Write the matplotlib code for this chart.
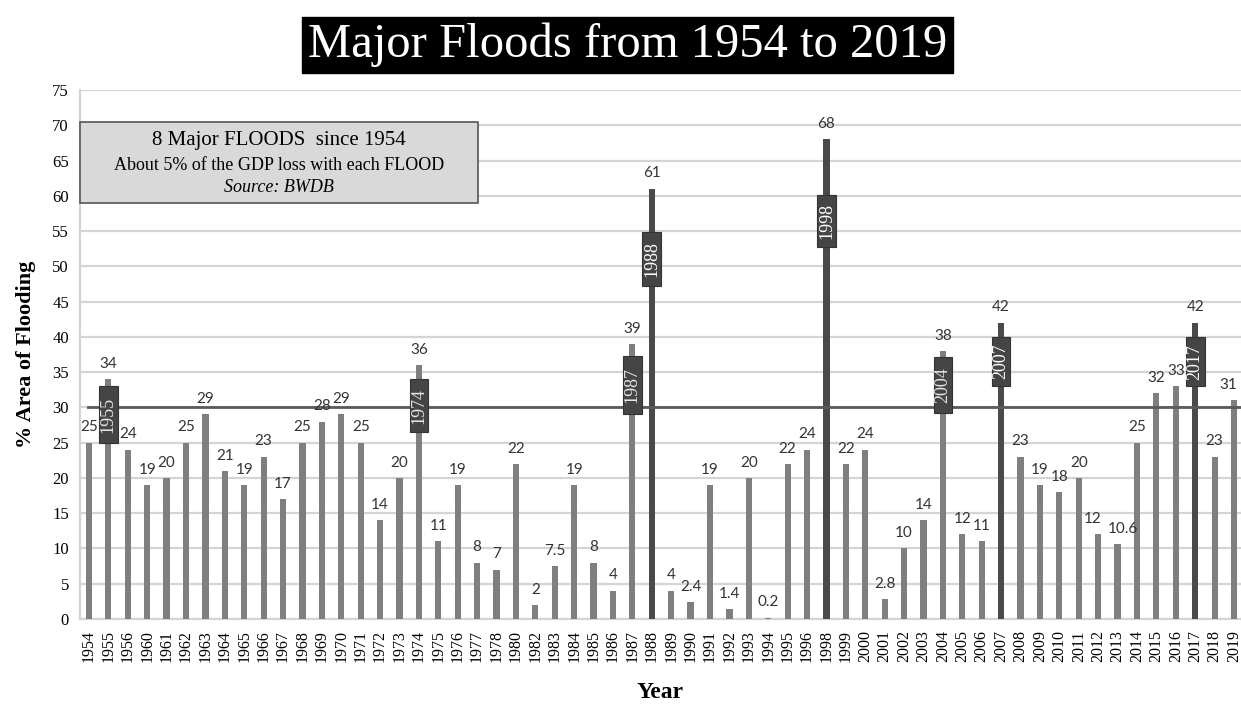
import matplotlib
matplotlib.use('Agg')
import matplotlib.pyplot as plt
from matplotlib.patches import Rectangle

# Flood data (BWDB)
years = ['1954', '1955', '1956', '1960', '1961', '1962', '1963', '1964', '1965', '1966',
         '1967', '1968', '1969', '1970', '1971', '1972', '1973', '1974', '1975', '1976',
         '1977', '1978', '1980', '1982', '1983', '1984', '1985', '1986', '1987', '1988',
         '1989', '1990', '1991', '1992', '1993', '1994', '1995', '1996', '1998', '1999',
         '2000', '2001', '2002', '2003', '2004', '2005', '2006', '2007', '2008', '2009',
         '2010', '2011', '2012', '2013', '2014', '2015', '2016', '2017', '2018', '2019']
area = [25, 34, 24, 19, 20, 25, 29, 21, 19, 23,
        17, 25, 28, 29, 25, 14, 20, 36, 11, 19,
        8, 7, 22, 2, 7.5, 19, 8, 4, 39, 61,
        4, 2.4, 19, 1.4, 20, 0.2, 22, 24, 68, 22,
        24, 2.8, 10, 14, 38, 12, 11, 42, 23, 19,
        18, 20, 12, 10.6, 25, 32, 33, 42, 23, 31]

# years tagged with a dark label box, and the biggest floods drawn darker
tagged = ['1955', '1974', '1987', '1988', '1998', '2004', '2007', '2017']
tag_span = [(25, 33), (26.5, 34), (29, 37.3), (47.2, 54.9), (52.8, 60.1),
            (29.2, 37.2), (33, 40), (33, 40)]
major = ['1988', '1998', '2007', '2017']
threshold = 30

# a few labels sit off-centre in the original
label_shift = {'2012': -4, '2013': 4, '2019': -4}

serif = 'Liberation Serif'
bar_color = '#7f7f7f'
dark_color = '#4a4a4a'
grid_color = '#d4d4d4'

fig = plt.figure(figsize=(12.41, 7.04), dpi=100)
ax = fig.add_axes([0.0645, 0.1207, 0.9355, 0.7514])

x = list(range(len(years)))
colors = [dark_color if y in major else bar_color for y in years]
ax.bar(x, area, width=0.32, color=colors, zorder=3)

ax.set_xlim(-0.46, 59.36)
ax.set_ylim(0, 75)
ax.set_yticks(range(0, 80, 5))
ax.set_xticks(x)
ax.set_xticklabels(years, rotation=90, fontfamily=serif, fontsize=11.5)
for lbl in ax.get_yticklabels():
    lbl.set_fontfamily(serif)
    lbl.set_fontsize(12)
ax.tick_params(length=0, colors='black')
ax.tick_params(axis='x', pad=8)
ax.tick_params(axis='y', pad=8)

ax.grid(axis='y', color=grid_color, linewidth=1.6, zorder=0)
for s in ['top', 'right']:
    ax.spines[s].set_visible(False)
ax.spines['left'].set_color(grid_color)
ax.spines['bottom'].set_color(grid_color)
ax.spines['left'].set_linewidth(1.6)
ax.spines['bottom'].set_linewidth(1.6)

# 30% reference line
ax.axhline(threshold, xmin=0.007, xmax=1, color='#5a5a5a', linewidth=2, zorder=4)

# value labels
for i, v in enumerate(area):
    txt = ('%g' % v)
    dx = label_shift.get(years[i], 0)
    ax.annotate(txt, (i, v), xytext=(dx, 6), textcoords='offset points',
                ha='center', va='bottom', fontsize=11, family='Lato',
                color='#333333', zorder=6)

# dark label boxes on the flood years
for y, (lo, hi) in zip(tagged, tag_span):
    i = years.index(y)
    ax.add_patch(Rectangle((i - 0.48, lo), 0.96, hi - lo, facecolor='#454545',
                           edgecolor='#333333', linewidth=0.8, zorder=5))
    ax.text(i, (lo + hi) / 2, y, rotation=90, ha='center', va='center',
            family=serif, fontsize=13, color='white' if y in major else '#e6e6e6',
            zorder=6)

# info box
ax.add_patch(Rectangle((0, 0.786), 0.343, 0.1535, transform=ax.transAxes,
                       facecolor='#d9d9d9', edgecolor='#555555', linewidth=1.2,
                       zorder=7, clip_on=False))
ax.text(0.1715, 0.905, '8 Major FLOODS  since 1954', transform=ax.transAxes,
        ha='center', va='center', family=serif, fontsize=15, zorder=8)
ax.text(0.1715, 0.858, 'About 5% of the GDP loss with each FLOOD', transform=ax.transAxes,
        ha='center', va='center', family=serif, fontsize=13, zorder=8)
ax.text(0.1715, 0.815, 'Source: BWDB', transform=ax.transAxes,
        ha='center', va='center', family=serif, fontsize=13, style='italic', zorder=8)

ax.set_ylabel('% Area of Flooding', family=serif, fontsize=16, fontweight='bold', labelpad=12)
ax.set_xlabel('Year', family=serif, fontsize=17, fontweight='bold', labelpad=14)

fig.text(0.506, 0.936, 'Major Floods from 1954 to 2019', ha='center', va='center',
         family=serif, fontsize=35, color='white',
         bbox=dict(boxstyle='square,pad=0.12', facecolor='black', edgecolor='black'))

fig.savefig('out.png', dpi=100)
plt.close()
